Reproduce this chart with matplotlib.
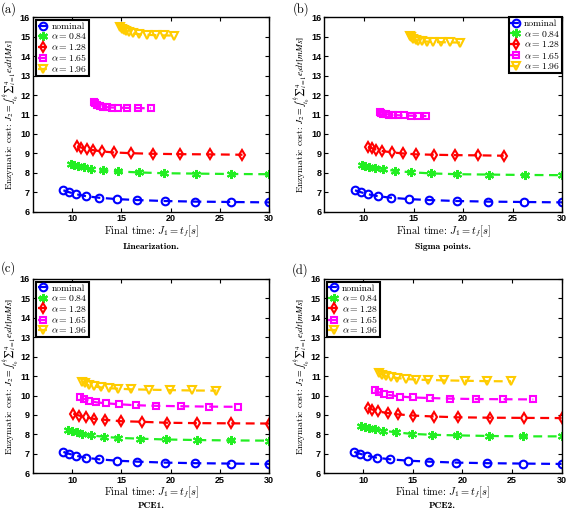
import matplotlib
matplotlib.use('Agg')
import matplotlib.pyplot as plt

plt.rcParams['mathtext.fontset'] = 'cm'
plt.rcParams['axes.unicode_minus'] = False

# shared nominal curve
x_nom = [9.1, 9.7, 10.4, 11.4, 12.7, 14.5, 16.6, 19.4, 22.5, 26.1, 30.0]
y_nom = [7.1, 7.0, 6.9, 6.8, 6.72, 6.65, 6.6, 6.55, 6.52, 6.5, 6.48]

# (a) Linearization
a_x084 = [9.9, 10.2, 10.6, 11.2, 11.9, 13.1, 14.7, 16.8, 19.3, 22.6, 26.1, 30.0]
a_y084 = [8.45, 8.4, 8.35, 8.28, 8.22, 8.13, 8.07, 8.02, 7.98, 7.96, 7.94, 7.93]
a_x128 = [10.5, 10.9, 11.45, 12.1, 13.0, 14.2, 15.95, 18.2, 21.0, 24.0, 27.3]
a_y128 = [9.38, 9.3, 9.22, 9.17, 9.1, 9.05, 9.01, 8.98, 8.96, 8.95, 8.93]
a_x165 = [12.2, 12.35, 12.55, 12.8, 13.1, 13.5, 14.0, 14.7, 15.6, 16.7, 18.0]
a_y165 = [11.65, 11.57, 11.5, 11.45, 11.41, 11.38, 11.36, 11.35, 11.34, 11.33, 11.32]
a_x196 = [14.9, 15.05, 15.25, 15.5, 15.8, 16.2, 16.8, 17.6, 18.5, 19.3, 20.3]
a_y196 = [15.5, 15.42, 15.35, 15.28, 15.22, 15.17, 15.13, 15.1, 15.08, 15.07, 15.06]

# (b) Sigma points
b_x084 = [9.8, 10.1, 10.5, 11.1, 11.9, 13.1, 14.7, 16.8, 19.4, 22.6, 26.2, 30.0]
b_y084 = [8.42, 8.37, 8.32, 8.26, 8.2, 8.1, 8.03, 7.97, 7.93, 7.91, 7.89, 7.88]
b_x128 = [10.4, 10.8, 11.2, 11.85, 12.85, 13.9, 15.3, 17.1, 19.2, 21.5, 24.1]
b_y128 = [9.35, 9.27, 9.2, 9.12, 9.05, 9.0, 8.95, 8.93, 8.91, 8.9, 8.88]
b_x165 = [11.6, 11.75, 11.95, 12.2, 12.5, 12.9, 13.4, 14.0, 14.7, 15.5, 16.3]
b_y165 = [11.15, 11.1, 11.05, 11.02, 11.0, 10.98, 10.96, 10.95, 10.94, 10.93, 10.92]
b_x196 = [14.6, 14.75, 14.95, 15.2, 15.5, 15.9, 16.4, 17.0, 17.8, 18.7, 19.7]
b_y196 = [15.05, 14.97, 14.9, 14.85, 14.8, 14.77, 14.75, 14.73, 14.72, 14.71, 14.7]

# (c) PCE1
c_x084 = [9.6, 10.0, 10.45, 10.95, 11.9, 13.2, 14.7, 16.9, 19.5, 22.7, 26.1, 30.0]
c_y084 = [8.25, 8.17, 8.1, 8.03, 7.95, 7.88, 7.82, 7.78, 7.74, 7.71, 7.69, 7.68]
c_x128 = [10.1, 10.7, 11.35, 12.2, 13.35, 14.95, 17.05, 19.6, 22.7, 26.15, 30.0]
c_y128 = [9.07, 8.97, 8.88, 8.8, 8.75, 8.68, 8.65, 8.6, 8.58, 8.57, 8.56]
c_x165 = [10.8, 11.2, 11.7, 12.45, 13.45, 14.8, 16.45, 18.55, 21.05, 23.9, 26.8]
c_y165 = [9.9, 9.83, 9.73, 9.65, 9.6, 9.55, 9.5, 9.47, 9.45, 9.43, 9.42]
c_x196 = [10.95, 11.3, 11.7, 12.2, 12.9, 13.7, 14.7, 16.0, 17.8, 19.9, 22.15, 24.65]
c_y196 = [10.72, 10.62, 10.52, 10.47, 10.42, 10.38, 10.35, 10.32, 10.3, 10.28, 10.26, 10.25]

# (d) PCE2
d_x084 = [9.75, 10.15, 10.55, 11.2, 12.0, 13.35, 14.9, 16.9, 19.5, 22.7, 26.15, 30.0]
d_y084 = [8.45, 8.38, 8.32, 8.27, 8.2, 8.1, 8.03, 7.98, 7.95, 7.92, 7.9, 7.9]
d_x128 = [10.45, 10.9, 11.5, 12.45, 13.5, 15.05, 17.15, 19.55, 22.75, 26.25, 30.0]
d_y128 = [9.35, 9.28, 9.18, 9.1, 9.03, 8.97, 8.92, 8.88, 8.86, 8.85, 8.84]
d_x165 = [11.15, 11.55, 12.05, 12.7, 13.7, 15.0, 16.75, 18.75, 21.35, 24.1, 27.15]
d_y165 = [10.27, 10.17, 10.08, 10.02, 9.95, 9.9, 9.87, 9.84, 9.82, 9.81, 9.8]
d_x196 = [11.6, 11.85, 12.25, 12.8, 13.45, 14.3, 15.3, 16.55, 18.15, 20.25, 22.45, 24.9]
d_y196 = [11.15, 11.08, 11.0, 10.95, 10.9, 10.85, 10.82, 10.8, 10.78, 10.76, 10.74, 10.73]

labels = ['nominal', r'$\alpha = 0.84$', r'$\alpha = 1.28$', r'$\alpha = 1.65$', r'$\alpha = 1.96$']
colors = ['#0000ff', '#22ee22', '#ff0000', '#ff00ff', '#ffcc00']
markers = ['o', (6, 2, 0), 'd', 's', 'v']
msizes = [5.5, 6.5, 5.5, 4, 5.5]

panels = [
    ('(a)', 'Linearization.', 'upper left', '[Ms]',
     [(a_x084, a_y084), (a_x128, a_y128), (a_x165, a_y165), (a_x196, a_y196)]),
    ('(b)', 'Sigma points.', 'upper right', '[mMs]',
     [(b_x084, b_y084), (b_x128, b_y128), (b_x165, b_y165), (b_x196, b_y196)]),
    ('(c)', 'PCE1.', 'upper left', '[mMs]',
     [(c_x084, c_y084), (c_x128, c_y128), (c_x165, c_y165), (c_x196, c_y196)]),
    ('(d)', 'PCE2.', 'upper left', '[mMs]',
     [(d_x084, d_y084), (d_x128, d_y128), (d_x165, d_y165), (d_x196, d_y196)]),
]

# axes rectangles [left, bottom, width, height] in figure fraction
rects = [[0.058, 0.5865, 0.4165, 0.3797],
         [0.572, 0.5865, 0.4195, 0.3797],
         [0.058, 0.0756, 0.4165, 0.3797],
         [0.5707, 0.0756, 0.4197, 0.3797]]
caption_y = [0.5176, 0.5176, 0.011, 0.011]
tag_y = [0.982, 0.982, 0.477, 0.473]

fig = plt.figure(figsize=(5.67, 5.12), dpi=100)

for (tag, caption, loc, unit, series), rect, cy, ty in zip(panels, rects, caption_y, tag_y):
    ax = fig.add_axes(rect)
    allseries = [(x_nom, y_nom)] + series
    for (xs, ys), lab, c, m, ms in zip(allseries, labels, colors, markers, msizes):
        ax.plot(xs, ys, linestyle=(0, (4, 2.5)), color=c, lw=1.6, marker=m,
                markersize=ms, markerfacecolor='none', markeredgecolor=c,
                markeredgewidth=1.5, label=lab)
    ax.set_xlim(6, 30)
    ax.set_ylim(6, 16)
    ax.set_xticks([10, 15, 20, 25, 30])
    ax.set_yticks(range(6, 17))
    ax.tick_params(direction='in', top=True, right=True, length=3, width=0.8,
                   labelsize=6.5, pad=2)
    for lbl in ax.get_xticklabels() + ax.get_yticklabels():
        lbl.set_fontfamily('Liberation Sans')
        lbl.set_fontweight('bold')
    for sp in ax.spines.values():
        sp.set_linewidth(1.0)
    ax.set_xlabel(r'Final time: $J_1 = t_f[s]$', fontfamily='cmr10', fontsize=7.5, labelpad=0)
    ax.set_ylabel(r'Enzymatic cost: $J_2 = \int_{t_0}^{t_f}{\sum}_{i=1}^{4} e_i dt' + unit + '$',
                  fontfamily='cmr10', fontsize=6.8, math_fontfamily='stix')
    ax.yaxis.set_label_coords(-0.05, 0.5)
    leg = ax.legend(loc=loc, handlelength=1.1, handletextpad=0.3,
                    borderpad=0.2, labelspacing=0.05, fancybox=False,
                    framealpha=1, edgecolor='black',
                    borderaxespad=0.0 if loc == 'upper right' else 0.3,
                    prop={'family': 'cmr10', 'size': 7})
    leg.get_frame().set_linewidth(1.5)
    cx = rect[0] + rect[2] / 2
    fig.text(cx, cy, caption, ha='center', va='center',
             fontfamily='cmb10', fontsize=6.8)
    fig.text(max(rect[0] - 0.056, 0.001), ty, tag, ha='left', va='center',
             fontfamily='cmr10', fontsize=9)

plt.savefig('out.png', dpi=100)
